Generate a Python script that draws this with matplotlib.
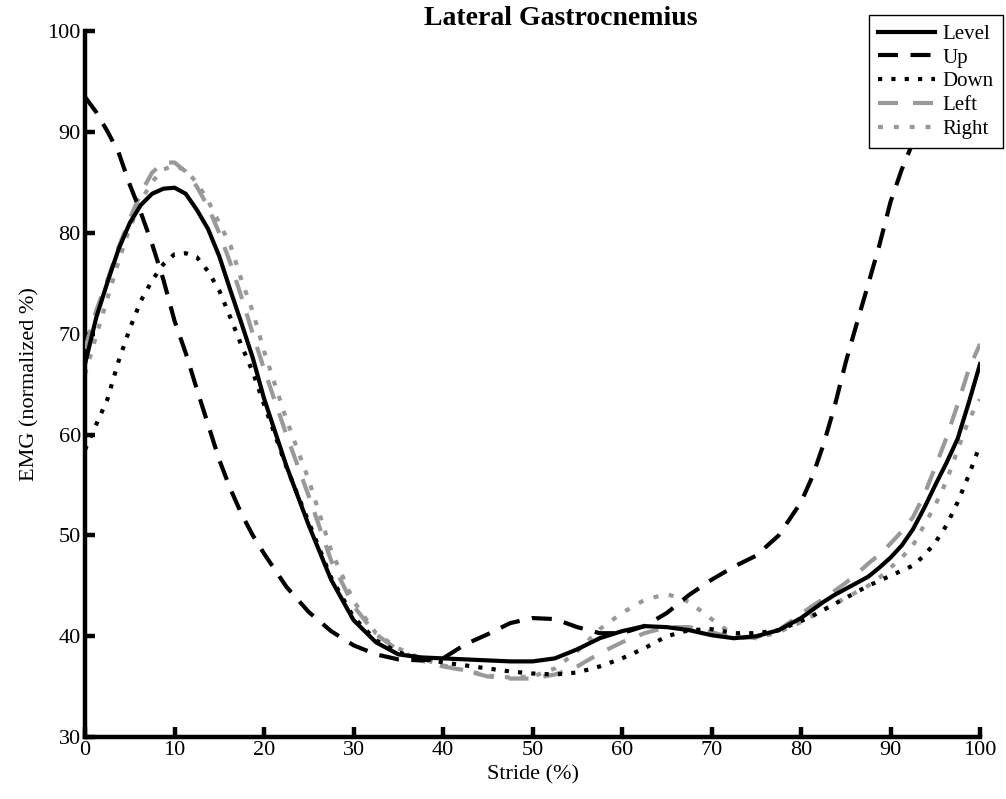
import matplotlib
matplotlib.use("Agg")
import matplotlib.pyplot as plt

plt.rcParams['font.family'] = ['Liberation Serif', 'DejaVu Serif']

# stride (%) sample positions (finer near the peaks and the end)
stride = [0, 1.25, 2.5, 3.75, 5, 6.25, 7.5, 8.75, 10, 11.25, 12.5, 13.75, 15, 16.25,
          17.5, 18.75, 20, 22.5, 25, 27.5, 30, 32.5, 35, 37.5, 40, 42.5, 45, 47.5,
          50, 52.5, 55, 57.5, 60, 62.5, 65, 67.5, 70, 72.5, 75, 77.5, 80, 81.25,
          82.5, 83.75, 85, 86.25, 87.5, 88.75, 90, 91.25, 92.5, 93.75, 95, 96.25,
          97.5, 98.75, 100]

level = [67.0, 71.6, 75.1, 78.4, 81.0, 82.8, 83.9, 84.4, 84.5, 83.9, 82.3, 80.4, 77.7,
         74.3, 71.0, 67.6, 63.6, 56.9, 51.0, 45.6, 41.6, 39.4, 38.2, 37.9, 37.8, 37.7,
         37.6, 37.5, 37.5, 37.8, 38.7, 39.8, 40.5, 41.0, 40.9, 40.6, 40.1, 39.8, 40.0,
         40.6, 41.8, 42.6, 43.4, 44.1, 44.7, 45.3, 45.9, 46.8, 47.8, 49.0, 50.6, 52.7,
         55.0, 57.2, 59.6, 63.2, 67.0]

up = [93.5, 92.0, 90.1, 88.0, 84.8, 82.0, 78.9, 75.4, 71.3, 68.1, 64.5, 61.0, 57.5,
      54.6, 52.1, 50.0, 48.2, 44.9, 42.4, 40.5, 39.1, 38.2, 37.7, 37.6, 37.8, 39.2,
      40.2, 41.3, 41.8, 41.7, 40.9, 40.3, 40.3, 41.0, 42.3, 44.1, 45.6, 46.9, 48.0,
      50.0, 53.3, 55.8, 59.0, 62.8, 67.2, 71.1, 74.9, 78.8, 83.1, 86.3, 89.0, 92.3,
      96.0, 99.0, 102.0, 105.5, 109.0]

down = [58.5, 61.0, 63.5, 67.3, 70.5, 73.3, 75.3, 76.9, 77.9, 78.0, 77.6, 76.2, 74.3,
        71.6, 68.8, 66.2, 63.0, 56.8, 51.3, 45.8, 41.9, 39.6, 38.4, 37.8, 37.4, 37.1,
        36.8, 36.5, 36.3, 36.2, 36.4, 37.0, 37.8, 38.8, 40.0, 40.6, 40.7, 40.3, 40.3,
        40.6, 41.5, 42.0, 42.6, 43.2, 43.8, 44.4, 45.0, 45.5, 46.0, 46.5, 47.0, 48.0,
        49.3, 51.0, 53.3, 56.0, 59.0]

left = [68.5, 72.3, 75.3, 78.6, 81.4, 84.0, 86.0, 87.0, 87.0, 86.1, 84.6, 82.6, 80.0,
        77.0, 73.6, 70.0, 66.5, 60.0, 53.9, 47.5, 43.0, 40.2, 38.6, 37.6, 37.0, 36.6,
        36.0, 35.8, 35.8, 36.2, 37.0, 38.3, 39.4, 40.3, 40.9, 40.9, 40.4, 39.8, 39.9,
        40.6, 42.2, 43.0, 43.7, 44.5, 45.3, 46.2, 47.2, 48.1, 49.2, 50.4, 51.8, 54.0,
        56.8, 59.7, 63.0, 66.5, 69.0]

right = [66.0, 69.8, 73.5, 77.2, 80.5, 83.2, 85.1, 86.3, 86.7, 86.2, 85.0, 83.2, 81.0,
         78.8, 75.3, 72.2, 68.3, 61.5, 55.5, 48.5, 43.5, 40.3, 38.8, 37.8, 37.1, 36.6,
         36.1, 35.9, 36.0, 36.8, 38.5, 40.7, 42.3, 43.6, 44.2, 43.4, 41.7, 40.1, 39.8,
         40.4, 41.4, 42.0, 42.6, 43.2, 43.8, 44.4, 45.0, 45.8, 46.8, 47.8, 49.0, 51.0,
         53.0, 55.4, 58.5, 61.5, 63.5]

fig = plt.figure(figsize=(10.06, 7.99), dpi=100)
ax = fig.add_axes([0.0845, 0.0776, 0.8897, 0.883])

gray = '#999999'
lw = 3
ax.plot(stride, level, color='black', lw=lw, label='Level', zorder=6)
ax.plot(stride, up, color='black', lw=lw, dashes=(4.8, 3.0), dash_capstyle='butt', label='Up', zorder=5)
ax.plot(stride, down, color='black', lw=lw, dashes=(1.0, 2.2), dash_capstyle='butt', label='Down', zorder=4)
ax.plot(stride, left, color=gray, lw=lw, dashes=(4.8, 3.6), dash_capstyle='butt', label='Left', zorder=3)
ax.plot(stride, right, color=gray, lw=lw, dashes=(1.2, 2.6), dash_capstyle='butt', label='Right', zorder=2)

ax.set_xlim(0, 100)
ax.set_ylim(30, 100)
ax.set_xticks(range(0, 101, 10))
ax.set_yticks(range(30, 101, 10))

ax.spines['top'].set_visible(False)
ax.spines['right'].set_visible(False)
ax.spines['left'].set_linewidth(3.2)
ax.spines['bottom'].set_linewidth(3.2)
ax.tick_params(direction='in', length=7, width=3.2, labelsize=16, pad=3)

ax.set_xlabel('Stride (%)', fontsize=16, labelpad=4)
ax.set_ylabel('EMG (normalized %)', fontsize=16, labelpad=6)
ax.set_title('Lateral Gastrocnemius', fontsize=20, fontweight='bold', x=0.532, pad=2)

leg = fig.legend(loc='upper right', bbox_to_anchor=(1003 / 1006, 1 - 15 / 799),
                 fontsize=15, frameon=True, fancybox=False, framealpha=1,
                 edgecolor='black', handlelength=2.75, handletextpad=0.35,
                 labelspacing=0.2, borderpad=0.45, borderaxespad=0)
leg.get_frame().set_linewidth(1.0)

plt.savefig('out.png', dpi=100)
